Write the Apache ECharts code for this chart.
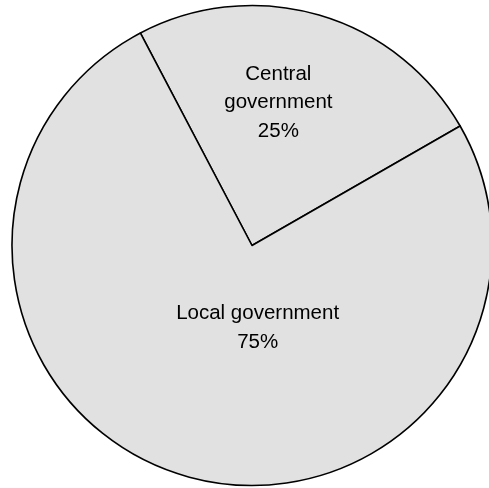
<!DOCTYPE html>
<html>
<head>
<meta charset="utf-8">
<style>html,body{margin:0;padding:0;background:#fff}#c{width:489px;height:488px}</style>
<script src="https://cdn.jsdelivr.net/npm/echarts@6/dist/echarts.min.js"></script>
</head>
<body>
<div id="c"></div>
<script>
var categories = ['Central\ngovernment', 'Local government'];
var values = [24.4, 75.6];
var shownPercents = [25, 75];

var chart = echarts.init(document.getElementById('c'), null, {renderer: 'canvas'});
var labelOffsets = [[-8, -25], [40, -36]];
chart.setOption({
  backgroundColor: '#ffffff',
  animation: false,
  series: [{
    type: 'pie',
    center: [252, 245.5],
    radius: 240,
    startAngle: 117.7,
    clockwise: true,
    data: categories.map(function (c, i) {
      return {
        name: c,
        value: values[i],
        label: {offset: labelOffsets[i]}
      };
    }),
    itemStyle: {color: '#e1e1e1', borderColor: '#000', borderWidth: 1.6},
    label: {
      show: true,
      position: 'inside',
      color: '#000',
      fontFamily: 'Liberation Sans, Arial, sans-serif',
      fontSize: 20.5,
      lineHeight: 28.5,
      formatter: function (p) { return p.name + '\n' + shownPercents[p.dataIndex] + '%'; }
    },
    labelLine: {show: false},
    emphasis: {disabled: true}
  }]
});
</script>
</body>
</html>
